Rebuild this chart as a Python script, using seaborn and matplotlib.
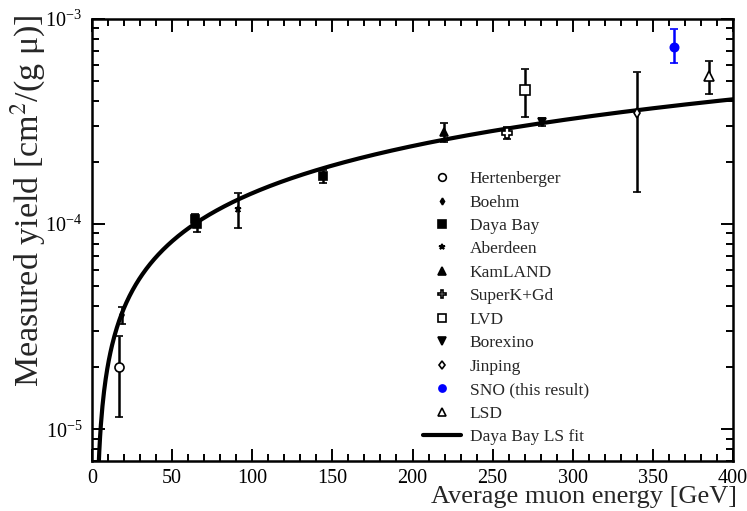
import numpy as np
import pandas as pd
import matplotlib
matplotlib.use("Agg")
import matplotlib.pyplot as plt
import seaborn as sns
from matplotlib.lines import Line2D
from matplotlib.ticker import MultipleLocator, LogLocator, NullFormatter, LogFormatterMathtext

# ---------------- data ----------------
labels = ["Hertenberger", "Boehm", "Daya Bay", "Daya Bay", "Daya Bay", "Aberdeen",
          "KamLAND", "SuperK+Gd", "LVD", "Borexino", "Jinping", "SNO (this result)", "LSD"]
energy = [17, 19, 64.5, 65.5, 144, 91, 219.5, 259, 270, 280.5, 340, 363, 385]
yield_vals = [2.0e-5, 3.6e-5, 1.06e-4, 1.00e-4, 1.72e-4, 1.19e-4,
              2.8e-4, 2.77e-4, 4.5e-4, 3.15e-4, 3.47e-4, 7.3e-4, 5.27e-4]
err_low = [0.85e-5, 0.33e-5, 0.05e-4, 0.08e-4, 0.13e-4, 0.23e-4,
           0.29e-4, 0.18e-4, 1.17e-4, 0.15e-4, 2.04e-4, 1.2e-4, 0.98e-4]
err_high = [0.85e-5, 0.33e-5, 0.06e-4, 0.05e-4, 0.11e-4, 0.23e-4,
            0.3e-4, 0.21e-4, 1.2e-4, 0.13e-4, 2.03e-4, 1.62e-4, 0.99e-4]

legend_order = ["Hertenberger", "Boehm", "Daya Bay", "Aberdeen", "KamLAND", "SuperK+Gd",
                "LVD", "Borexino", "Jinping", "SNO (this result)", "LSD"]
fit_label = "Daya Bay LS fit"

# Daya Bay LS fit: Y = norm * ((E - E0) / Eref)^index
fit_norm = 4.06e-4
fit_eref = 397.5
fit_e0 = 2.5
fit_index = 0.75

x_ticks_major = 50
x_ticks_minor = 10

df = pd.DataFrame({"label": labels, "energy": energy, "yield": yield_vals,
                   "lo": err_low, "hi": err_high})

fit_E = np.linspace(fit_e0 + 0.05, 400, 800)
fit_Y = fit_norm * ((fit_E - fit_e0) / fit_eref) ** fit_index
fit_df = pd.DataFrame({"E": fit_E, "Y": fit_Y})

# ---------------- styles ----------------
styles = {
    "Hertenberger": dict(marker="o", mfc="white", mec="black", ms=6.5, color="black"),
    "Boehm": dict(marker="d", mfc="black", mec="black", ms=4, color="black"),
    "Daya Bay": dict(marker="s", mfc="black", mec="black", ms=6, color="black"),
    "Aberdeen": dict(marker="*", mfc="black", mec="black", ms=5, color="black"),
    "KamLAND": dict(marker="^", mfc="black", mec="black", ms=6, color="black"),
    "SuperK+Gd": dict(marker="P", mfc="white", mec="black", ms=7, color="black"),
    "LVD": dict(marker="s", mfc="white", mec="black", ms=7, color="black"),
    "Borexino": dict(marker="v", mfc="black", mec="black", ms=6, color="black"),
    "Jinping": dict(marker="d", mfc="white", mec="black", ms=5, color="black"),
    "SNO (this result)": dict(marker="o", mfc="blue", mec="blue", ms=6, color="blue"),
    "LSD": dict(marker="^", mfc="white", mec="black", ms=7.5, color="black"),
}

sns.set_theme(style="ticks")
plt.rcParams["font.family"] = ["Liberation Serif", "DejaVu Serif"]
plt.rcParams["mathtext.fontset"] = "stix"

fig = plt.figure(figsize=(7.47, 5.11), dpi=100)
ax = fig.add_axes([92 / 747, 1 - 461 / 511, 641 / 747, 442 / 511])
ax.set_yscale("log")

sns.lineplot(data=fit_df, x="E", y="Y", ax=ax, color="black", lw=3.0, sort=False)

for _, r in df.iterrows():
    st = styles[r["label"]]
    ax.errorbar([r["energy"]], [r["yield"]], yerr=[[r["lo"]], [r["hi"]]],
                fmt=st["marker"], ms=st["ms"], mfc=st["mfc"], mec=st["mec"],
                mew=1.2, ecolor=st["color"], elinewidth=1.8, capsize=3,
                capthick=1.8, zorder=4)

ax.set_xlim(0, 400)
ax.set_ylim(7.0e-6, 1e-3)

ax.xaxis.set_major_locator(MultipleLocator(x_ticks_major))
ax.xaxis.set_minor_locator(MultipleLocator(x_ticks_minor))
ax.yaxis.set_major_locator(LogLocator(base=10))
ax.yaxis.set_major_formatter(LogFormatterMathtext())
ax.yaxis.set_minor_locator(LogLocator(base=10, subs=np.arange(2, 10)))
ax.yaxis.set_minor_formatter(NullFormatter())

ax.tick_params(which="both", direction="in", top=True, right=True, width=1.4,
               colors="black", labelsize=14.5)
ax.tick_params(which="major", length=9)
ax.tick_params(which="minor", length=5)
ax.tick_params(axis="x", pad=6)
ax.tick_params(axis="y", pad=7)
for s in ax.spines.values():
    s.set_linewidth(1.8)
    s.set_color("black")
ax.set_xlabel("")
ax.set_ylabel("")

fig.text(737 / 747, 1 - 508 / 511, "Average muon energy [GeV]", ha="right", va="bottom",
         fontsize=19)
fig.text(28 / 747, 1 - 15 / 511, "Measured yield [cm$^{2}$/(g \u03bc)]", rotation=90,
         ha="center", va="top", fontsize=24.5)

handles = []
for lab in legend_order:
    st = styles[lab]
    handles.append(Line2D([], [], ls="none", marker=st["marker"], ms=st["ms"] * 0.85,
                          mfc=st["mfc"], mec=st["mec"], mew=1.2))
handles.append(Line2D([], [], color="black", lw=3.0))
ax.legend(handles, legend_order + [fit_label], loc="upper left",
          bbox_to_anchor=((423 - 92) / 641, 1 - (171 - 19) / 442), frameon=False,
          fontsize=12.5, handlelength=2.2, handletextpad=0.5, labelspacing=0.42,
          borderpad=0, borderaxespad=0)

fig.savefig("out.png", dpi=100)
